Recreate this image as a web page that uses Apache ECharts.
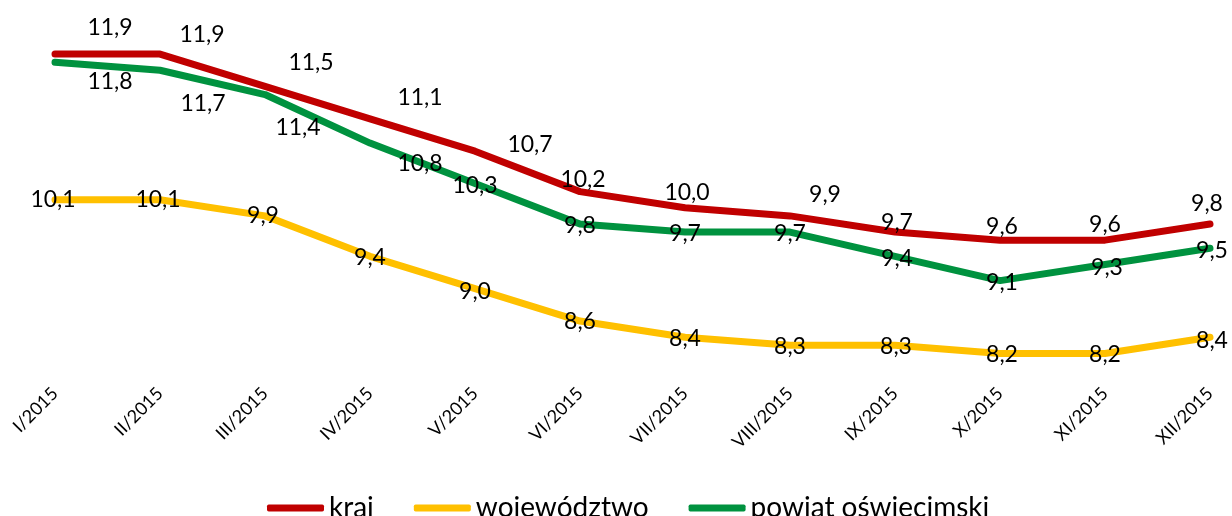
<!DOCTYPE html>
<html>
<head>
<meta charset="utf-8">
<script src="https://cdn.jsdelivr.net/npm/echarts@6/dist/echarts.min.js"></script>
<style>
  html, body { margin: 0; padding: 0; background: #fff; }
  #chart { width: 1232px; height: 516px; }
</style>
</head>
<body>
<div id="chart"></div>
<script>
// miesiące 2015
const months = ['I/2015', 'II/2015', 'III/2015', 'IV/2015', 'V/2015', 'VI/2015',
  'VII/2015', 'VIII/2015', 'IX/2015', 'X/2015', 'XI/2015', 'XII/2015']

// stopa bezrobocia (%)
const kraj = [11.9, 11.9, 11.5, 11.1, 10.7, 10.2, 10.0, 9.9, 9.7, 9.6, 9.6, 9.8]
const wojewodztwo = [10.1, 10.1, 9.9, 9.4, 9.0, 8.6, 8.4, 8.3, 8.3, 8.2, 8.2, 8.4]
const powiat = [11.8, 11.7, 11.4, 10.8, 10.3, 9.8, 9.7, 9.7, 9.4, 9.1, 9.3, 9.5]

// przesunięcia etykiet (jak w Excelu)
const krajOffsets = [[55, -27], [42, -20], [46, -24], [50, -21], [55, -7], [3, -12],
  [2, -15], [35, -21], [2, -9], [2, -14], [0, -16], [-3, -20]]
const wojOffsets = [[-2, 0], [-2, 0], [-2, 0], [0, 1], [0, 3], [0, 1],
  [0, 1], [0, 1], [1, 1], [2, 1], [0, 1], [2, 3]]
const powiatOffsets = [[55, 19], [43, 33], [33, 33], [50, 20], [0, 2], [0, 2],
  [0, 2], [0, 2], [2, 2], [2, 2], [2, 3], [2, 2]]

const FONT = 'Lato, "Liberation Sans", sans-serif'

const withLabels = (values, offsets) => values.map((v, i) => ({
  value: v,
  label: { offset: offsets[i] }
}))

const makeSeries = (name, values, offsets, color) => ({
  name: name,
  type: 'line',
  data: withLabels(values, offsets),
  symbol: 'circle',
  symbolSize: 0.1,
  itemStyle: { color: color },
  lineStyle: { width: 7, color: color, cap: 'round', join: 'round' },
  label: {
    show: true,
    position: 'inside',
    color: '#000',
    fontFamily: FONT,
    fontSize: 23,
    textBorderWidth: 0,
    formatter: (p) => p.value.toFixed(1).replace('.', ',')
  },
  emphasis: { disabled: true },
  animation: false
})

const chart = echarts.init(document.getElementById('chart'))

chart.setOption({
  backgroundColor: '#fff',
  grid: { left: 55, right: 22, top: 46, height: 323.6 },
  legend: {
    left: 262,
    top: 489,
    icon: 'roundRect',
    itemWidth: 57,
    itemHeight: 7,
    itemGap: 40,
    textStyle: { color: '#000', fontFamily: FONT, fontSize: 28 },
    data: ['kraj', 'województwo', 'powiat oświęcimski']
  },
  xAxis: {
    type: 'category',
    data: months,
    boundaryGap: false,
    axisLine: { show: false },
    axisTick: { show: false },
    axisLabel: {
      rotate: 45,
      margin: 21,
      interval: 0,
      color: '#000',
      fontFamily: FONT,
      fontSize: 18
    }
  },
  yAxis: {
    type: 'value',
    min: 8,
    max: 12,
    show: false,
    splitLine: { show: false }
  },
  series: [
    makeSeries('kraj', kraj, krajOffsets, '#C00000'),
    makeSeries('województwo', wojewodztwo, wojOffsets, '#FFC000'),
    makeSeries('powiat oświęcimski', powiat, powiatOffsets, '#00923F')
  ]
})
</script>
</body>
</html>
